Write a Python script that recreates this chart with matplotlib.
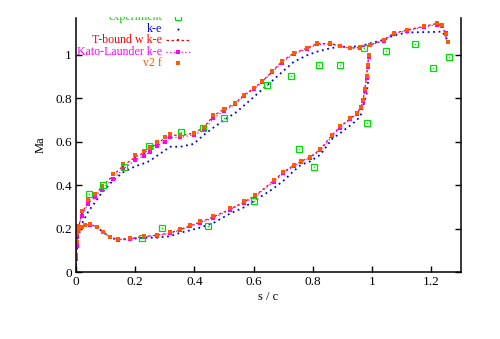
import numpy as np
import matplotlib
matplotlib.use('Agg')
import matplotlib.pyplot as plt
from matplotlib.patches import Rectangle

plt.rcParams['font.family'] = ['Liberation Serif', 'DejaVu Serif']
plt.rcParams['font.size'] = 9

# surface position grids (suction side / pressure side)
s_up = [0, 0.003, 0.008, 0.019, 0.042, 0.064, 0.087, 0.126, 0.16, 0.2, 0.228, 0.25,
        0.273, 0.3, 0.318, 0.352, 0.397, 0.431, 0.464, 0.5, 0.538, 0.566, 0.6, 0.628,
        0.662, 0.695, 0.735, 0.78, 0.814, 0.859, 0.892, 0.926, 0.96, 0.994, 1.039,
        1.073, 1.118, 1.174, 1.219, 1.236, 1.248, 1.255]
s_low = [0, 0.001, 0.003, 0.01, 0.019, 0.032, 0.047, 0.07, 0.092, 0.115, 0.143, 0.183,
         0.228, 0.273, 0.318, 0.35, 0.385, 0.42, 0.464, 0.521, 0.566, 0.605, 0.667, 0.7,
         0.735, 0.76, 0.791, 0.825, 0.864, 0.892, 0.926, 0.949, 0.962, 0.969, 0.975,
         0.981, 0.985, 0.988]

# k-e
ke_up = [0.03, 0.1, 0.16, 0.22, 0.28, 0.32, 0.365, 0.423, 0.46, 0.487, 0.5, 0.512,
         0.535, 0.56, 0.577, 0.577, 0.59, 0.631, 0.665, 0.7, 0.733, 0.765, 0.806, 0.84,
         0.88, 0.92, 0.968, 0.998, 1.015, 1.031, 1.037, 1.038, 1.04, 1.054, 1.069,
         1.09, 1.103, 1.105, 1.106, 1.108, 1.085, 1.06]
ke_low = [0.03, 0.1, 0.16, 0.195, 0.206, 0.214, 0.217, 0.207, 0.183, 0.158, 0.149,
          0.152, 0.158, 0.158, 0.165, 0.18, 0.192, 0.205, 0.226, 0.27, 0.297, 0.33,
          0.385, 0.42, 0.465, 0.494, 0.51, 0.54, 0.612, 0.64, 0.675, 0.7, 0.725, 0.76,
          0.79, 0.82, 0.86, 0.9]

# T-bound w k-e
tb_up = [0.06, 0.13, 0.2, 0.27, 0.325, 0.355, 0.392, 0.446, 0.49, 0.53, 0.548, 0.567,
         0.593, 0.615, 0.632, 0.628, 0.64, 0.665, 0.72, 0.75, 0.777, 0.815, 0.846, 0.877,
         0.923, 0.969, 1.008, 1.031, 1.052, 1.052, 1.042, 1.031, 1.036, 1.046, 1.069,
         1.1, 1.115, 1.131, 1.145, 1.138, 1.09, 1.055]
tb_low = [0.06, 0.13, 0.175, 0.198, 0.208, 0.216, 0.219, 0.208, 0.185, 0.16, 0.15,
          0.154, 0.163, 0.17, 0.18, 0.195, 0.213, 0.23, 0.254, 0.29, 0.322, 0.352, 0.42,
          0.46, 0.492, 0.51, 0.53, 0.565, 0.63, 0.669, 0.708, 0.731, 0.76, 0.79, 0.84,
          0.9, 0.95, 0.995]

# Kato-Launder k-e
kl_up = [0.06, 0.12, 0.19, 0.26, 0.315, 0.345, 0.38, 0.43, 0.475, 0.515, 0.535, 0.553,
         0.58, 0.6, 0.62, 0.62, 0.632, 0.652, 0.708, 0.742, 0.772, 0.81, 0.842, 0.874,
         0.92, 0.965, 1.004, 1.028, 1.048, 1.05, 1.04, 1.03, 1.034, 1.044, 1.066,
         1.097, 1.112, 1.128, 1.14, 1.132, 1.1, 1.06]
kl_low = [0.07, 0.12, 0.17, 0.196, 0.207, 0.215, 0.218, 0.207, 0.184, 0.159, 0.149,
          0.153, 0.161, 0.168, 0.178, 0.192, 0.21, 0.226, 0.25, 0.287, 0.318, 0.348,
          0.415, 0.455, 0.488, 0.507, 0.527, 0.56, 0.625, 0.665, 0.704, 0.728, 0.757,
          0.787, 0.835, 0.895, 0.945, 0.99]

# v2 f
vf_up = [0.07, 0.14, 0.21, 0.28, 0.33, 0.36, 0.397, 0.452, 0.497, 0.538, 0.556, 0.575,
         0.598, 0.62, 0.635, 0.63, 0.642, 0.668, 0.722, 0.752, 0.779, 0.817, 0.848, 0.879,
         0.925, 0.97, 1.01, 1.033, 1.054, 1.053, 1.043, 1.032, 1.037, 1.047, 1.07,
         1.102, 1.117, 1.133, 1.147, 1.14, 1.095, 1.058]
vf_low = [0.08, 0.14, 0.18, 0.2, 0.209, 0.217, 0.22, 0.209, 0.186, 0.161, 0.151,
          0.155, 0.165, 0.172, 0.183, 0.198, 0.216, 0.233, 0.257, 0.293, 0.325, 0.355,
          0.423, 0.462, 0.494, 0.512, 0.532, 0.567, 0.632, 0.671, 0.71, 0.733, 0.762,
          0.792, 0.842, 0.902, 0.952, 0.998]

# experiment
exp_s = [0.044, 0.091, 0.163, 0.245, 0.355, 0.43, 0.499, 0.645, 0.727, 0.82, 0.89,
         0.972, 1.047, 1.144, 1.206, 1.261,
         0.984, 0.753, 0.805, 0.6, 0.445, 0.29, 0.222]
exp_ma = [0.36, 0.40, 0.485, 0.58, 0.645, 0.665, 0.71, 0.86, 0.905, 0.955, 0.955,
          1.033, 1.02, 1.05, 0.94, 0.99,
          0.686, 0.567, 0.483, 0.328, 0.21, 0.203, 0.157]

c_exp = '#00dd00'
c_ke = '#0000ee'
c_tb = '#ff0000'
c_kl = '#ff00ff'
c_vf = '#ff5a00'

fig = plt.figure(figsize=(5.0, 3.39), dpi=100)
ax = fig.add_axes([0.152, 0.1976, 0.77, 0.7493])

for s, m in ((s_up, ke_up), (s_low, ke_low)):
    ax.plot(s, m, color=c_ke, ls=(0, (1, 2)), lw=1.3)
for s, m in ((s_up, tb_up), (s_low, tb_low)):
    ax.plot(s, m, color=c_tb, ls=(0, (2, 2)), lw=0.9, marker='s', ms=1.5, mew=0)
for s, m in ((s_up, kl_up), (s_low, kl_low)):
    ax.plot(s, m, color=c_kl, ls=(0, (1, 2)), lw=0.9, marker='s', ms=3, mew=0)
for s, m in ((s_up, vf_up), (s_low, vf_low)):
    ax.plot(s, m, color=c_vf, ls='none', marker='s', ms=3.2, mew=0)

ax.plot(exp_s, exp_ma, ls='none', marker='s', ms=5, mfc='none', mec=c_exp, mew=0.9)
ax.plot(exp_s, exp_ma, ls='none', marker='s', ms=1, mew=0, color=c_exp)

ax.set_xlim(0, 1.3)
ax.set_ylim(0, 1.17)
ax.set_xticks([0, 0.2, 0.4, 0.6, 0.8, 1, 1.2])
ax.set_xticklabels(['0', '0.2', '0.4', '0.6', '0.8', '1', '1.2'])
ax.set_yticks([0, 0.2, 0.4, 0.6, 0.8, 1])
ax.set_yticklabels(['0', '0.2', '0.4', '0.6', '0.8', '1'])
ax.tick_params(direction='in', length=4, width=1, right=True, top=False, pad=3,
               labelsize=9.5)
ax.spines['top'].set_visible(False)
for sp in ('left', 'right', 'bottom'):
    ax.spines[sp].set_linewidth(1.1)

ax.set_xlabel('s / c', labelpad=2)
ax.set_ylabel('Ma', labelpad=6)

# key, text right-aligned with samples to the right
clip = Rectangle((0, 0), 1, (339 - 16.5) / 339, transform=fig.transFigure)
keys = [
    ('experiment', dict(ls='none', marker='s', ms=5, mfc='none', mec=c_exp, mew=0.9), c_exp),
    ('k-e', dict(ls='none', marker='o', ms=1.5, mew=0, color=c_ke), c_ke),
    ('T-bound w k-e', dict(ls=(0, (2, 2)), lw=0.9, color=c_tb, marker='s', ms=1.5, mew=0), c_tb),
    ('Kato-Launder k-e', dict(ls=(0, (1, 2)), lw=0.9, color=c_kl, marker='s', ms=3, mew=0), c_kl),
    ('v2 f', dict(ls='none', marker='s', ms=3.2, mew=0, color=c_vf), c_vf),
]
y0, dy = 1.004, 0.0456
for i, (label, kw, col) in enumerate(keys):
    y = y0 - i * dy
    t = ax.text(0.2234, y, label, color=col, ha='right', va='center', fontsize=8.6,
                transform=ax.transAxes, clip_on=True)
    t.set_clip_path(clip)
    if kw.get('ls') == 'none':
        ln, = ax.plot([0.265], [y], transform=ax.transAxes, clip_on=True, **kw)
    else:
        ln, = ax.plot([0.234, 0.265, 0.296], [y, y, y], transform=ax.transAxes,
                      clip_on=True, markevery=[1], **kw)
    ln.set_clip_path(clip)

fig.savefig('out.png', dpi=100)
